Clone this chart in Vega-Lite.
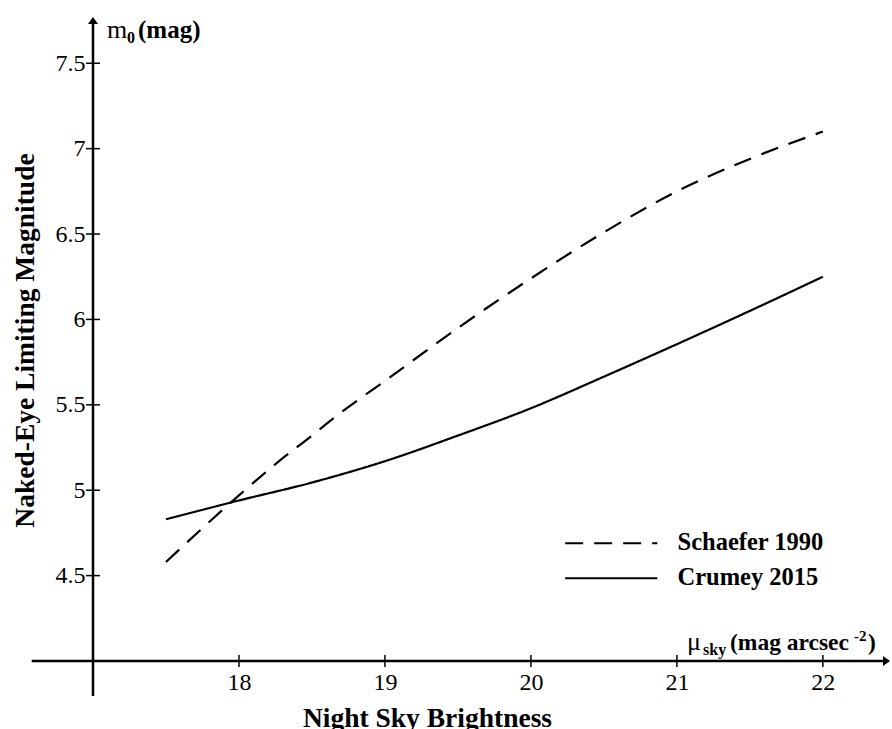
{
  "$schema": "https://vega.github.io/schema/vega-lite/v6.json",
  "width": 797,
  "height": 643,
  "autosize": {"type": "none"},
  "padding": {"left": 93, "top": 18, "right": 2, "bottom": 68},
  "background": "white",
  "config": {
    "view": {"stroke": null},
    "font": "Liberation Serif",
    "axis": {"grid": false}
  },
  "datasets": {
    "curves": [
      {"mu": 17.5, "m0": 4.58, "model": "Schaefer 1990"},
      {"mu": 18.0, "m0": 4.97, "model": "Schaefer 1990"},
      {"mu": 18.26, "m0": 5.16, "model": "Schaefer 1990"},
      {"mu": 18.5, "m0": 5.32, "model": "Schaefer 1990"},
      {"mu": 18.66, "m0": 5.43, "model": "Schaefer 1990"},
      {"mu": 19.0, "m0": 5.64, "model": "Schaefer 1990"},
      {"mu": 19.5, "m0": 5.95, "model": "Schaefer 1990"},
      {"mu": 20.0, "m0": 6.24, "model": "Schaefer 1990"},
      {"mu": 20.5, "m0": 6.51, "model": "Schaefer 1990"},
      {"mu": 21.0, "m0": 6.75, "model": "Schaefer 1990"},
      {"mu": 21.5, "m0": 6.94, "model": "Schaefer 1990"},
      {"mu": 22.0, "m0": 7.1, "model": "Schaefer 1990"},
      {"mu": 17.5, "m0": 4.83, "model": "Crumey 2015"},
      {"mu": 18.0, "m0": 4.94, "model": "Crumey 2015"},
      {"mu": 18.5, "m0": 5.045, "model": "Crumey 2015"},
      {"mu": 19.0, "m0": 5.17, "model": "Crumey 2015"},
      {"mu": 19.5, "m0": 5.32, "model": "Crumey 2015"},
      {"mu": 20.0, "m0": 5.48, "model": "Crumey 2015"},
      {"mu": 20.5, "m0": 5.665, "model": "Crumey 2015"},
      {"mu": 21.0, "m0": 5.855, "model": "Crumey 2015"},
      {"mu": 21.5, "m0": 6.05, "model": "Crumey 2015"},
      {"mu": 22.0, "m0": 6.25, "model": "Crumey 2015"}
    ],
    "xticks": [{"v": 18}, {"v": 19}, {"v": 20}, {"v": 21}, {"v": 22}],
    "yticks": [{"v": 4.5}, {"v": 5}, {"v": 5.5}, {"v": 6}, {"v": 6.5}, {"v": 7}, {"v": 7.5}],
    "one": [{}]
  },
  "layer": [
    {
      "data": {"name": "curves"},
      "mark": {"type": "line", "interpolate": "monotone", "color": "black", "strokeWidth": 2.2, "strokeCap": "butt"},
      "encoding": {
        "x": {
          "field": "mu", "type": "quantitative", "title": "Night Sky Brightness",
          "scale": {"domain": [17, 22.46], "nice": false, "zero": false},
          "axis": {
            "values": [18, 19, 20, 21, 22], "format": "~g",
            "domain": false, "ticks": false, "grid": false,
            "labelFont": "Liberation Serif", "labelFontSize": 24, "labelColor": "black", "labelPadding": 9,
            "title": "Night Sky Brightness",
            "titleFont": "Liberation Serif", "titleFontSize": 27.5, "titleFontWeight": "bold", "titleColor": "black",
            "titleX": 334, "titleY": 65, "titleBaseline": "alphabetic", "titleAlign": "center"
          }
        },
        "y": {
          "field": "m0", "type": "quantitative", "title": "Naked-Eye Limiting Magnitude",
          "scale": {"domain": [4, 7.765], "nice": false, "zero": false},
          "axis": {
            "values": [4.5, 5, 5.5, 6, 6.5, 7, 7.5], "format": "~g",
            "domain": false, "ticks": false, "grid": false,
            "labelFont": "Liberation Serif", "labelFontSize": 24, "labelColor": "black", "labelPadding": 8,
            "title": "Naked-Eye Limiting Magnitude",
            "titleFont": "Liberation Serif", "titleFontSize": 27.5, "titleFontWeight": "bold", "titleColor": "black",
            "titleX": -60, "titleY": 322, "titleAngle": 270, "titleBaseline": "alphabetic", "titleAlign": "center"
          }
        },
        "strokeDash": {
          "field": "model", "type": "nominal",
          "scale": {"domain": ["Schaefer 1990", "Crumey 2015"], "range": [[18, 11], [1, 0]]},
          "legend": {
            "title": null, "orient": "none", "legendX": 506, "legendY": 513,
            "symbolType": "M-10,0L10,0", "symbolSize": 85, "symbolStrokeWidth": 2, "symbolStrokeColor": "black", "symbolFillColor": "transparent",
            "labelFont": "Liberation Serif", "labelFontSize": 24.5, "labelFontWeight": "bold", "labelColor": "black",
            "labelOffset": 54, "rowPadding": 10, "padding": 0
          }
        }
      }
    },
    {
      "data": {"name": "one"},
      "mark": {"type": "rule", "color": "black", "strokeWidth": 2.5},
      "encoding": {
        "x": {"datum": 16.58},
        "x2": {"datum": 22.44},
        "y": {"datum": 4}
      }
    },
    {
      "data": {"name": "one"},
      "mark": {"type": "rule", "color": "black", "strokeWidth": 2.5},
      "encoding": {
        "x": {"datum": 17},
        "y": {"datum": 3.795},
        "y2": {"datum": 7.75}
      }
    },
    {
      "data": {"name": "one"},
      "mark": {"type": "point", "shape": "M0,-0.7L1,0.7L-1,0.7Z", "filled": true, "color": "black", "opacity": 1, "size": 100},
      "encoding": {
        "x": {"datum": 17},
        "y": {"datum": 7.75}
      }
    },
    {
      "data": {"name": "one"},
      "mark": {"type": "point", "shape": "M0.7,0L-0.7,-1L-0.7,1Z", "filled": true, "color": "black", "opacity": 1, "size": 100},
      "encoding": {
        "x": {"datum": 22.436},
        "y": {"datum": 4}
      }
    },
    {
      "data": {"name": "xticks"},
      "mark": {"type": "tick", "orient": "vertical", "size": 12, "thickness": 1.5, "color": "black", "opacity": 1},
      "encoding": {
        "x": {"field": "v", "type": "quantitative", "title": "Night Sky Brightness"},
        "y": {"datum": 4}
      }
    },
    {
      "data": {"name": "yticks"},
      "mark": {"type": "tick", "orient": "horizontal", "size": 14, "thickness": 1.5, "color": "black", "opacity": 1},
      "encoding": {
        "y": {"field": "v", "type": "quantitative", "title": "Naked-Eye Limiting Magnitude"},
        "x": {"datum": 17}
      }
    },
    {
      "data": {"name": "one"},
      "mark": {"type": "text", "text": "m", "font": "Liberation Serif", "fontSize": 26, "color": "black", "align": "left", "baseline": "alphabetic", "dx": 14, "dy": 20},
      "encoding": {"x": {"datum": 17}, "y": {"datum": 7.765}}
    },
    {
      "data": {"name": "one"},
      "mark": {"type": "text", "text": "0", "font": "Liberation Serif", "fontSize": 16, "fontWeight": "bold", "color": "black", "align": "left", "baseline": "alphabetic", "dx": 34, "dy": 25},
      "encoding": {"x": {"datum": 17}, "y": {"datum": 7.765}}
    },
    {
      "data": {"name": "one"},
      "mark": {"type": "text", "text": "(mag)", "font": "Liberation Serif", "fontSize": 25, "fontWeight": "bold", "color": "black", "align": "left", "baseline": "alphabetic", "dx": 45, "dy": 20},
      "encoding": {"x": {"datum": 17}, "y": {"datum": 7.765}}
    },
    {
      "data": {"name": "one"},
      "mark": {"type": "text", "text": "μ", "font": "Liberation Serif", "fontSize": 26, "color": "black", "align": "left", "baseline": "alphabetic", "dx": -203, "dy": -11},
      "encoding": {"x": {"datum": 22.46}, "y": {"datum": 4}}
    },
    {
      "data": {"name": "one"},
      "mark": {"type": "text", "text": "sky", "font": "Liberation Serif", "fontSize": 16, "fontWeight": "bold", "color": "black", "align": "left", "baseline": "alphabetic", "dx": -187, "dy": -6},
      "encoding": {"x": {"datum": 22.46}, "y": {"datum": 4}}
    },
    {
      "data": {"name": "one"},
      "mark": {"type": "text", "text": "(mag arcsec", "font": "Liberation Serif", "fontSize": 23.5, "fontWeight": "bold", "color": "black", "align": "left", "baseline": "alphabetic", "dx": -160, "dy": -11},
      "encoding": {"x": {"datum": 22.46}, "y": {"datum": 4}}
    },
    {
      "data": {"name": "one"},
      "mark": {"type": "text", "text": "-2", "font": "Liberation Serif", "fontSize": 15, "fontWeight": "bold", "color": "black", "align": "left", "baseline": "alphabetic", "dx": -36, "dy": -20},
      "encoding": {"x": {"datum": 22.46}, "y": {"datum": 4}}
    },
    {
      "data": {"name": "one"},
      "mark": {"type": "text", "text": ")", "font": "Liberation Serif", "fontSize": 23.5, "fontWeight": "bold", "color": "black", "align": "left", "baseline": "alphabetic", "dx": -22, "dy": -11},
      "encoding": {"x": {"datum": 22.46}, "y": {"datum": 4}}
    }
  ]
}
